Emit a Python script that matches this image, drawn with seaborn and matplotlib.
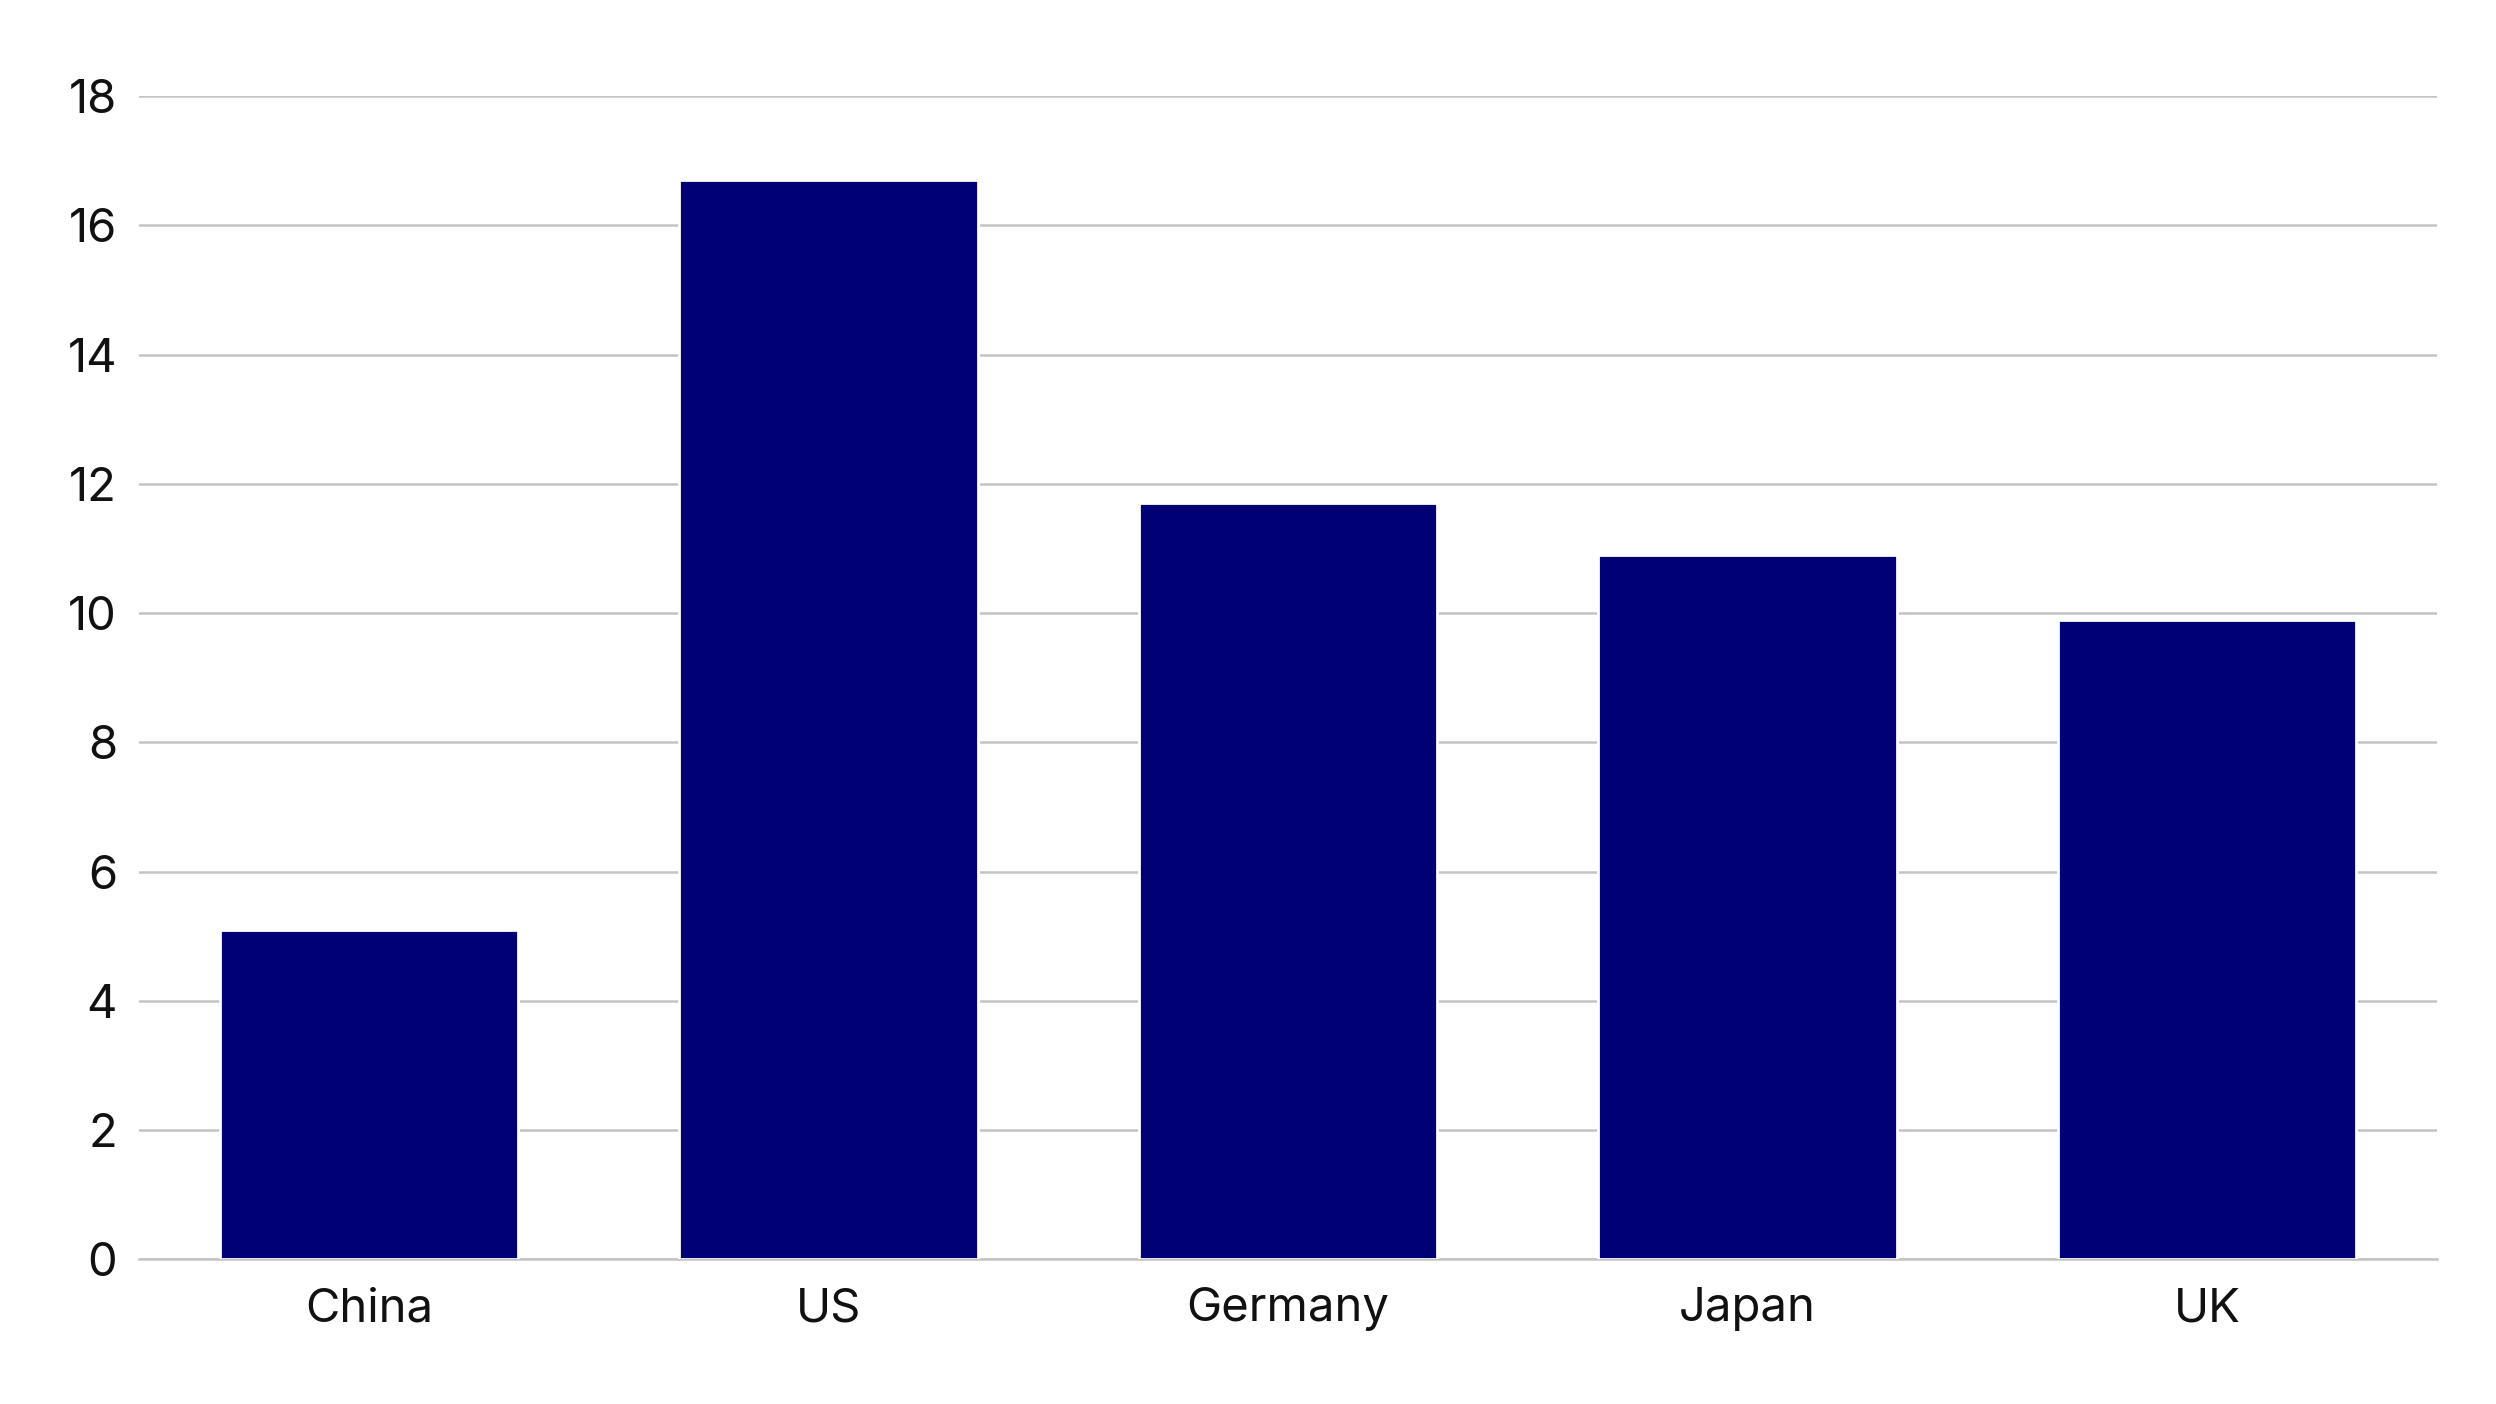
import seaborn as sns
import matplotlib.pyplot as plt
import pandas as pd

countries = ['China', 'US', 'Germany', 'Japan', 'UK']
values = [5.1, 16.7, 11.7, 10.9, 9.9]
y_ticks = [0, 2, 4, 6, 8, 10, 12, 14, 16, 18]

NAVY = '#000074'
GRID = '#c4c4c4'

sns.set_theme(style='white')
plt.rcParams['font.family'] = ['Inter', 'DejaVu Sans']

df = pd.DataFrame({'Country': countries, 'Value': values})

fig = plt.figure(figsize=(12.48, 7.02), dpi=200)
ax = fig.add_axes([0.0558, 0.103, 0.9205, 0.8286])
sns.barplot(data=df, x='Country', y='Value', color=NAVY, saturation=1,
            width=0.65, ax=ax, zorder=3)

ax.set_ylim(0, 18)
ax.set_yticks(y_ticks)
ax.set_xlim(-0.5, len(countries) - 0.5)
ax.yaxis.grid(True, color=GRID, lw=0.9, zorder=0)
ax.set_axisbelow(True)
for side in ['top', 'right', 'left']:
    ax.spines[side].set_visible(False)
ax.spines['bottom'].set_color(GRID)
ax.spines['bottom'].set_linewidth(0.9)
ax.tick_params(axis='both', length=0, labelsize=17, colors='#111111')
ax.tick_params(axis='x', pad=10)
ax.tick_params(axis='y', pad=8)
ax.set_xlabel('')
ax.set_ylabel('')

fig.savefig('out.png', dpi=200, facecolor='white')
